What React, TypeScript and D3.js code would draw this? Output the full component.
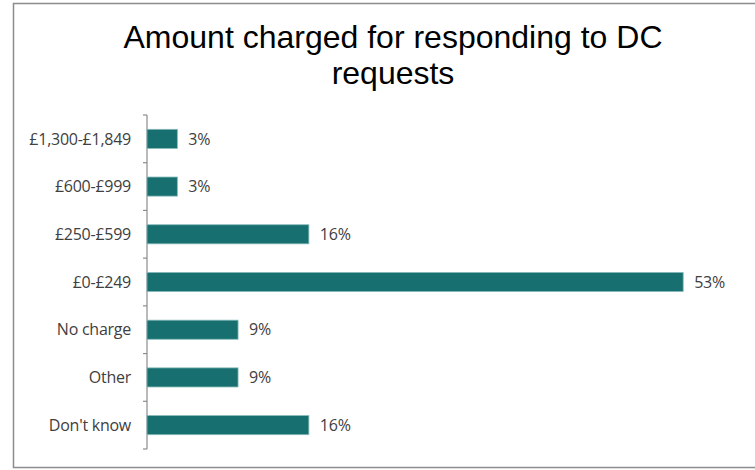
import React from "react";
import * as d3 from "d3";

const categories = ["£1,300-£1,849", "£600-£999", "£250-£599", "£0-£249", "No charge", "Other", "Don't know"];
const values = [3, 3, 16, 53, 9, 9, 16];
const titleLines = ["Amount charged for responding to DC", "requests"];

const W = 755;
const H = 470;

export default function App() {
  const x = d3.scaleLinear().domain([0, 60]).range([147, 754]);
  const y = d3
    .scaleBand<string>()
    .domain(categories)
    .range([115, 449])
    .paddingInner(0.6)
    .paddingOuter(0.3);
  const step = y.step();
  const tickYs = d3.range(categories.length + 1).map((i) => 115 + i * step);
  const labelFont = "'Open Sans', 'Noto Sans', sans-serif";

  return (
    <svg
      width={W}
      height={H}
      style={{ position: "absolute", left: 0, top: 0, background: "#fff" }}
    >
      <rect x={13.5} y={3.5} width={800} height={464} fill="#fff" stroke="#8c8c8c" strokeWidth={1.5} />
      {titleLines.map((t, i) => (
        <text
          key={i}
          x={393}
          y={48 + i * 36}
          textAnchor="middle"
          fontFamily="'Liberation Sans', Arial, sans-serif"
          fontSize={32}
          fill="#000"
        >
          {t}
        </text>
      ))}
      <line x1={147} x2={147} y1={115} y2={449} stroke="#8c8c8c" strokeWidth={1.2} />
      {tickYs.map((ty, i) => (
        <line key={i} x1={143} x2={147} y1={ty} y2={ty} stroke="#8c8c8c" strokeWidth={1.2} />
      ))}
      {categories.map((c, i) => {
        const by = y(c)!;
        const bw = y.bandwidth();
        return (
          <g key={c}>
            <rect
              x={x(0)}
              y={by}
              width={x(values[i]) - x(0)}
              height={bw}
              fill="#17706F"
              stroke="#86b9b9"
              strokeWidth={0.8}
            />
            <text
              x={131}
              y={by + bw / 2}
              dy="0.36em"
              textAnchor="end"
              fontFamily={labelFont}
              fontSize={16}
              letterSpacing={-0.25}
              fill="#404040"
            >
              {c}
            </text>
            <text
              x={x(values[i]) + 11}
              y={by + bw / 2}
              dy="0.36em"
              textAnchor="start"
              fontFamily={labelFont}
              fontSize={16}
              letterSpacing={-0.25}
              fill="#404040"
            >
              {values[i] + "%"}
            </text>
          </g>
        );
      })}
    </svg>
  );
}
